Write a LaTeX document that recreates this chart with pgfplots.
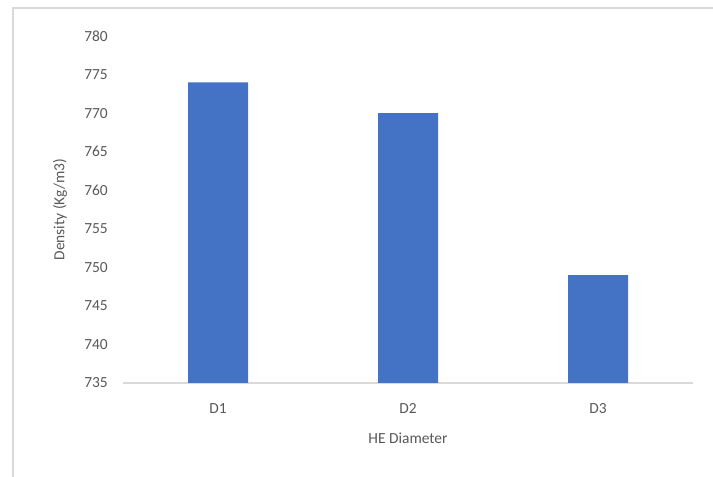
\documentclass[border=0pt]{standalone}
\usepackage{pgfplots}
\pgfplotsset{compat=1.18}
\usepackage{fontspec}
\setmainfont{Carlito}
\definecolor{barblue}{HTML}{4472C4}
\definecolor{txt}{HTML}{595959}
\definecolor{axgray}{HTML}{D9D9D9}
\begin{document}
\begin{tikzpicture}[x=1bp,y=1bp]
\path[use as bounding box] (0,0) rectangle (713,477);
\draw[axgray, line width=2bp] (13,0) -- (13,469) -- (713,469);
\begin{axis}[
  at={(123bp,94bp)}, anchor=south west,
  scale only axis,
  width=570bp, height=347bp,
  xmin=-0.5, xmax=2.5,
  ymin=735, ymax=780,
  ytick={735,740,...,780},
  xtick={0,1,2},
  xticklabels={D1,D2,D3},
  axis x line=bottom,
  axis y line=left,
  x axis line style={axgray, line width=1.5bp, -},
  y axis line style={draw=none},
  major tick length=0pt,
  tick style={draw=none},
  font=\fontsize{15.5}{18}\selectfont,
  tick label style={txt},
  /pgf/number format/assume math mode=true,
  yticklabel style={inner sep=0pt, xshift=-15bp, anchor=east},
  xticklabel style={inner sep=0pt, anchor=north, yshift=-20bp},
  xlabel={HE Diameter},
  ylabel={Density (Kg/m3)},
  label style={txt},
  xlabel style={at={(axis description cs:0.5,0)}, anchor=center, yshift=-55bp},
  ylabel style={at={(axis description cs:0,0.5)}, anchor=center, yshift=63bp},
  clip=false,
]
\addplot[ybar, bar width=60bp, fill=barblue, draw=none, bar shift=0pt] coordinates {(0,774) (1,770) (2,749)};
\end{axis}
\end{tikzpicture}
\end{document}
